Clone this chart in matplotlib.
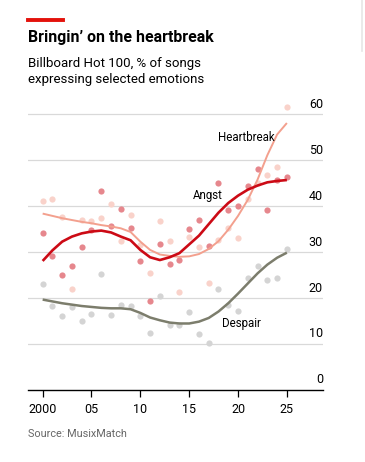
import matplotlib
matplotlib.use("Agg")
import matplotlib.pyplot as plt
from matplotlib.lines import Line2D

plt.rcParams['font.family'] = ['Roboto', 'DejaVu Sans']

years = list(range(2000, 2026))

# dots, one per year
angst_pts = [34, 29, 25, 27, 31, 34.8, 43.3, 35.5, 39.3, 35.1, 28, 19.2, 31.7,
             27.3, 28.2, 35, 37, 31.2, 44.9, 39, 40, 44.4, 48, 39, 45.6, 46.2]
heart_pts = [41, 41.4, 37.5, 22, 37, 36.7, 37.3, 40.4, 32.3, 38, 31.5, 25.3, 36.7,
             32.3, 21.2, 33.3, 31, 23.1, 32.5, 35.1, 33, 41.5, 45, 46.7, 48.4, 61.4]
despair_pts = [23, 18.2, 16, 18, 15, 16.4, 25.2, 16.2, 18.4, 18.3, 16, 12.3, 20.4,
               14.1, 14.1, 17, 12.1, 10.1, 22, 18.5, 17.1, 24.2, 27, 23.8, 24.2, 30.7]

# smoothed trend lines
angst_trend = [28, 30.3, 32.2, 33.3, 34, 34.4, 34.6, 34.2, 33.3, 32.5, 30.4, 28.8, 28.2,
               28.8, 29.7, 31.6, 33.5, 36, 38.5, 40.6, 42.2, 43.5, 44.4, 45.1, 45.4, 45.6]
heart_trend = [38.3, 37.8, 37.3, 36.9, 36.5, 36.2, 35.8, 35.5, 35.1, 34.3, 32.2, 30.4, 29.4,
               29.1, 28.9, 29.0, 29.5, 30.6, 32.3, 34.8, 37.8, 41.3, 45.7, 51, 55.5, 58]
despair_trend = [19.6, 19.2, 18.8, 18.5, 18.2, 18, 17.8, 17.7, 17.7, 17.5, 16.7, 15.7, 15.1,
                 14.6, 14.4, 14.4, 14.8, 15.6, 17, 18.8, 20.9, 23.1, 25.3, 27.2, 28.7, 29.8]

yticks = [0, 10, 20, 30, 40, 50, 60]
xticks = [2000, 2005, 2010, 2015, 2020, 2025]
xlabels = ['2000', '05', '10', '15', '20', '25']

fig = plt.figure(figsize=(3.65, 4.62), dpi=100)
ax = fig.add_axes([0.0767, 0.1565, 0.8083, 0.627])

for v in yticks[1:]:
    ax.axhline(v, color='#d9d9d9', lw=0.9, zorder=0)

ax.scatter(years, despair_pts, s=20, color='#d4d4d4', lw=0, zorder=1)
ax.scatter(years, heart_pts, s=20, color='#f9d2ca', lw=0, zorder=1)
ax.scatter(years, angst_pts, s=20, color='#e6878d', lw=0, zorder=1)

ax.plot(years, despair_trend, color='#7c7d6c', lw=1.8, zorder=3, solid_capstyle='butt')
ax.plot(years, heart_trend, color='#f3a08e', lw=1.4, zorder=3, solid_capstyle='butt')
ax.plot(years, angst_trend, color='#cc0a15', lw=1.9, zorder=4, solid_capstyle='butt')

ax.text(2020.8, 54.9, 'Heartbreak', fontsize=8.3, ha='center', va='center')
ax.text(2016.9, 42.3, 'Angst', fontsize=8.3, ha='center', va='center')
ax.text(2020.3, 14.5, 'Despair', fontsize=8.3, ha='center', va='center')

ax.set_xlim(1998.5, 2028.7)
ax.set_ylim(0, 63)
ax.set_yticks([])
ax.set_xticks(xticks)
ax.set_xticklabels(xlabels, fontsize=9)
ax.tick_params(axis='x', length=5, width=0.9, pad=4.5, color='black')
for s in ['top', 'right', 'left']:
    ax.spines[s].set_visible(False)
ax.spines['bottom'].set_linewidth(1.0)

for v in yticks:
    ax.text(2028.7, v + 0.7, str(v), fontsize=9, ha='right', va='bottom')

fig.add_artist(Line2D([0.0767, 0.1726], [0.956, 0.956], color='#e3120b', lw=2.8))
fig.text(0.0767, 0.919, 'Bringin\u2019 on the heartbreak', fontsize=11.4,
         fontweight='bold', va='center')
fig.text(0.0767, 0.845, 'Billboard Hot 100, % of songs\nexpressing selected emotions',
         fontsize=9.5, va='center', linespacing=1.35)
fig.text(0.0767, 0.06, 'Source: MusixMatch', fontsize=7.8, color='#666666', va='center')
fig.add_artist(Line2D([0.992, 0.992], [0.89, 1.0], color='#e6e6e6', lw=1.2))

fig.savefig('out.png', dpi=100)
